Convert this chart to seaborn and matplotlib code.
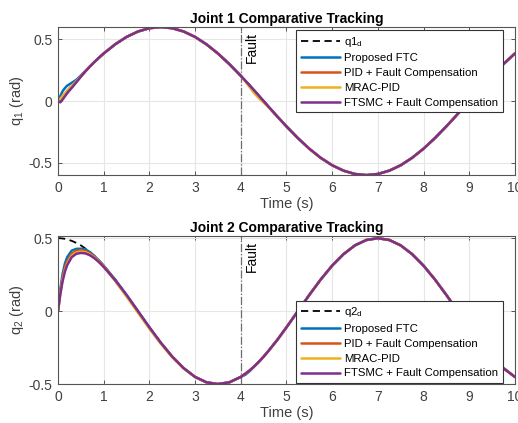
import matplotlib
matplotlib.use("Agg")
import matplotlib.pyplot as plt
import seaborn as sns
import pandas as pd

sns.set_theme(style="white")
plt.rcParams['font.family'] = ['Liberation Sans', 'DejaVu Sans']
plt.rcParams['mathtext.fontset'] = 'custom'
plt.rcParams['mathtext.rm'] = 'Liberation Sans'
plt.rcParams['mathtext.it'] = 'Liberation Sans'

# ---------------- data ----------------
t = [0, 0.05, 0.1, 0.15, 0.2, 0.3, 0.4, 0.5, 0.6, 0.7, 0.8, 0.9, 1.0,
     1.25, 1.5, 1.75, 2.0, 2.25, 2.5, 2.75, 3.0, 3.25, 3.5, 3.75, 4.0,
     4.1, 4.2, 4.3, 4.4, 4.5, 4.6, 4.8, 5.0,
     5.25, 5.5, 5.75, 6.0, 6.25, 6.5, 6.75, 7.0, 7.25, 7.5, 7.75, 8.0,
     8.25, 8.5, 8.75, 9.0, 9.25, 9.5, 9.75, 10.0]

q1_des = [0, 0.021, 0.042, 0.063, 0.084, 0.125, 0.165, 0.205, 0.244, 0.282, 0.318, 0.353, 0.386,
          0.460, 0.520, 0.564, 0.591, 0.600, 0.591, 0.564, 0.520, 0.460, 0.386, 0.300, 0.205,
          0.165, 0.125, 0.084, 0.042, 0.000, -0.042, -0.125, -0.205,
          -0.300, -0.386, -0.460, -0.520, -0.564, -0.591, -0.600, -0.591, -0.564, -0.520, -0.460, -0.386,
          -0.300, -0.205, -0.104, 0.000, 0.104, 0.205, 0.300, 0.386]
q1_ftc = [0, 0.040, 0.080, 0.105, 0.125, 0.148, 0.172, 0.207, 0.245, 0.282, 0.318, 0.353, 0.386,
          0.460, 0.520, 0.564, 0.591, 0.600, 0.591, 0.564, 0.520, 0.460, 0.386, 0.300, 0.205,
          0.165, 0.125, 0.084, 0.042, 0.000, -0.042, -0.125, -0.205,
          -0.300, -0.386, -0.460, -0.520, -0.564, -0.591, -0.600, -0.591, -0.564, -0.520, -0.460, -0.386,
          -0.300, -0.205, -0.104, 0.000, 0.104, 0.205, 0.300, 0.386]
q1_pid = [0, 0.008, 0.028, 0.048, 0.068, 0.110, 0.155, 0.200, 0.242, 0.281, 0.318, 0.353, 0.386,
          0.460, 0.520, 0.564, 0.591, 0.600, 0.591, 0.564, 0.520, 0.460, 0.386, 0.300, 0.205,
          0.163, 0.119, 0.076, 0.035, -0.005, -0.044, -0.125, -0.205,
          -0.300, -0.386, -0.460, -0.520, -0.564, -0.591, -0.600, -0.591, -0.564, -0.520, -0.460, -0.386,
          -0.300, -0.205, -0.104, 0.000, 0.104, 0.205, 0.300, 0.386]
q1_mrac = [0, 0.018, 0.042, 0.062, 0.082, 0.122, 0.160, 0.200, 0.242, 0.281, 0.318, 0.353, 0.386,
           0.460, 0.520, 0.564, 0.591, 0.600, 0.591, 0.564, 0.520, 0.460, 0.386, 0.300, 0.205,
           0.160, 0.110, 0.062, 0.022, -0.012, -0.047, -0.126, -0.205,
           -0.300, -0.386, -0.460, -0.520, -0.564, -0.591, -0.600, -0.591, -0.564, -0.520, -0.460, -0.386,
           -0.300, -0.205, -0.104, 0.000, 0.104, 0.205, 0.300, 0.386]
q1_ftsmc = [0, -0.010, 0.012, 0.038, 0.064, 0.108, 0.152, 0.198, 0.241, 0.281, 0.318, 0.353, 0.386,
            0.460, 0.520, 0.564, 0.591, 0.600, 0.591, 0.564, 0.520, 0.460, 0.386, 0.300, 0.205,
            0.165, 0.125, 0.084, 0.042, 0.000, -0.042, -0.125, -0.205,
            -0.300, -0.386, -0.460, -0.520, -0.564, -0.591, -0.600, -0.591, -0.564, -0.520, -0.460, -0.386,
            -0.300, -0.205, -0.104, 0.000, 0.104, 0.205, 0.300, 0.386]

q2_des = [0.500, 0.500, 0.498, 0.496, 0.492, 0.482, 0.468, 0.451, 0.429, 0.405, 0.377, 0.346, 0.312,
          0.217, 0.111, 0.000, -0.111, -0.217, -0.312, -0.391, -0.451, -0.488, -0.500, -0.488, -0.451,
          -0.429, -0.405, -0.377, -0.346, -0.312, -0.275, -0.197, -0.111,
          0.000, 0.111, 0.217, 0.312, 0.391, 0.451, 0.488, 0.500, 0.488, 0.451, 0.391, 0.312,
          0.217, 0.111, 0.000, -0.111, -0.217, -0.312, -0.391, -0.451]
q2_ftc = [0, 0.150, 0.255, 0.325, 0.370, 0.415, 0.427, 0.428, 0.424, 0.404, 0.377, 0.346, 0.312,
          0.217, 0.111, 0.000, -0.111, -0.217, -0.312, -0.391, -0.451, -0.488, -0.500, -0.488, -0.451,
          -0.436, -0.410, -0.378, -0.346, -0.312, -0.275, -0.197, -0.111,
          0.000, 0.111, 0.217, 0.312, 0.391, 0.451, 0.488, 0.500, 0.488, 0.451, 0.391, 0.312,
          0.217, 0.111, 0.000, -0.111, -0.217, -0.312, -0.391, -0.451]
q2_pid = [0, 0.130, 0.230, 0.295, 0.340, 0.393, 0.413, 0.418, 0.412, 0.396, 0.372, 0.342, 0.309,
          0.212, 0.106, -0.005, -0.115, -0.217, -0.312, -0.391, -0.451, -0.488, -0.500, -0.488, -0.451,
          -0.429, -0.405, -0.377, -0.346, -0.312, -0.275, -0.197, -0.111,
          0.000, 0.111, 0.217, 0.312, 0.391, 0.451, 0.488, 0.500, 0.488, 0.451, 0.391, 0.312,
          0.217, 0.111, 0.000, -0.111, -0.217, -0.312, -0.391, -0.451]
q2_mrac = [0, 0.120, 0.215, 0.280, 0.325, 0.380, 0.402, 0.408, 0.403, 0.388, 0.366, 0.338, 0.305,
           0.208, 0.100, -0.010, -0.120, -0.224, -0.317, -0.394, -0.452, -0.488, -0.500, -0.488, -0.451,
           -0.429, -0.405, -0.377, -0.346, -0.312, -0.275, -0.197, -0.111,
           0.000, 0.111, 0.217, 0.312, 0.391, 0.451, 0.488, 0.500, 0.488, 0.451, 0.391, 0.312,
           0.217, 0.111, 0.000, -0.111, -0.217, -0.312, -0.391, -0.451]
q2_ftsmc = [0, 0.115, 0.205, 0.270, 0.315, 0.370, 0.393, 0.399, 0.396, 0.383, 0.362, 0.335, 0.303,
            0.213, 0.111, 0.000, -0.111, -0.217, -0.312, -0.391, -0.451, -0.488, -0.500, -0.488, -0.451,
            -0.429, -0.405, -0.377, -0.346, -0.312, -0.275, -0.197, -0.111,
            0.000, 0.111, 0.217, 0.312, 0.391, 0.451, 0.488, 0.500, 0.488, 0.451, 0.391, 0.312,
            0.217, 0.111, 0.000, -0.111, -0.217, -0.312, -0.391, -0.451]

labels = ['Proposed FTC', 'PID + Fault Compensation', 'MRAC-PID', 'FTSMC + Fault Compensation']
colors = ['#0072BD', '#D95319', '#EDB120', '#7E2F8E']
fault_time = 4.0
xticks = [0, 1, 2, 3, 4, 5, 6, 7, 8, 9, 10]

# ---------------- figure ----------------
fig = plt.figure(figsize=(5.18, 4.23), dpi=100)
fig.patch.set_facecolor('white')
ax1 = fig.add_axes([0.112, 0.586, 0.882, 0.350])
ax2 = fig.add_axes([0.112, 0.092, 0.882, 0.350])

spine_col = '#555555'
text_col = '#404040'

def draw(ax, des, series, des_label, ylabel, title, ylim, yticks, ytl, fault_y, legend_loc, bbox):
    sns.lineplot(x=t, y=des, ax=ax, color='black', linestyle=(0, (4, 2.5)), linewidth=1.3,
                 label=des_label)
    for s, lab, c in zip(series, labels, colors):
        sns.lineplot(x=t, y=s, ax=ax, color=c, linewidth=1.8, label=lab)
    ax.axvline(fault_time, color='#6e6e6e', linestyle='-.', linewidth=0.9, zorder=1)
    ax.text(fault_time + 0.08, fault_y, 'Fault', rotation=90, ha='left', va='bottom',
            fontsize=10, color='black')
    ax.set_xlim(0, 10)
    ax.set_ylim(*ylim)
    ax.set_xticks(xticks)
    ax.set_xticklabels([str(v) for v in xticks])
    ax.set_yticks(yticks)
    ax.set_yticklabels(ytl)
    ax.grid(True, color='#e6e6e6', linewidth=0.8)
    ax.set_axisbelow(True)
    for sp in ax.spines.values():
        sp.set_color(spine_col)
        sp.set_linewidth(0.8)
        sp.set_visible(True)
    ax.tick_params(direction='in', length=3, width=0.7, colors=spine_col, labelcolor=text_col,
                   labelsize=10, top=True, right=True, bottom=True, left=True, pad=4)
    ax.set_xlabel('Time (s)', fontsize=10.5, color=text_col, labelpad=2)
    ax.set_ylabel(ylabel, fontsize=10.5, color=text_col, labelpad=2)
    ax.set_title(title, fontsize=10, fontweight='bold', color='black', pad=3)
    leg = ax.legend(loc=legend_loc, bbox_to_anchor=bbox, fontsize=8.2, frameon=True,
                    fancybox=False, edgecolor='#333333', framealpha=1,
                    handlelength=3.5, handletextpad=0.35, labelspacing=0.42,
                    borderpad=0.4, borderaxespad=0)
    leg.get_frame().set_linewidth(0.8)
    for txt in leg.get_texts():
        txt.set_color('black')

draw(ax1, q1_des, [q1_ftc, q1_pid, q1_mrac, q1_ftsmc], r'q1$_{\rm d}$', r'q$_1$ (rad)',
     'Joint 1 Comparative Tracking', (-0.6, 0.6), [-0.5, 0, 0.5], ['-0.5', '0', '0.5'], 0.31,
     'upper right', (0.974, 0.98))
draw(ax2, q2_des, [q2_ftc, q2_pid, q2_mrac, q2_ftsmc], r'q2$_{\rm d}$', r'q$_2$ (rad)',
     'Joint 2 Comparative Tracking', (-0.5, 0.515), [-0.5, 0, 0.5], ['-0.5', '0', '0.5'], 0.27,
     'lower right', (0.974, 0.007))

fig.savefig('out.png', dpi=100, facecolor='white')
